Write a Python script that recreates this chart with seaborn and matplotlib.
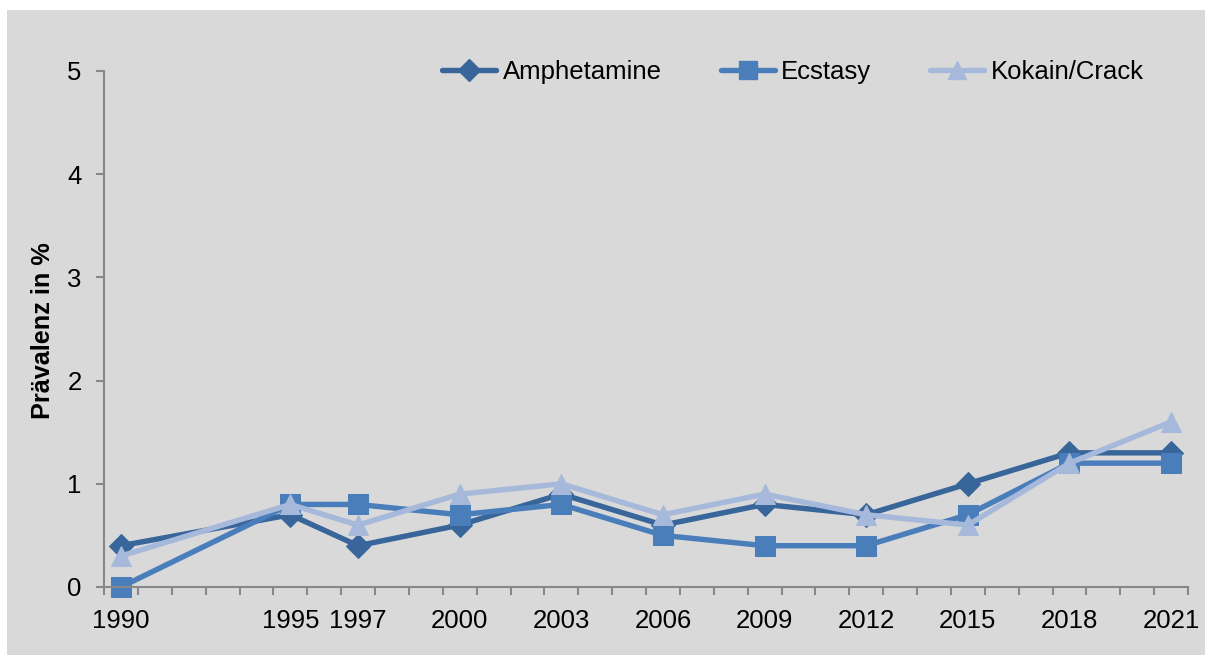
import matplotlib
matplotlib.use("Agg")
import matplotlib.pyplot as plt
from matplotlib.lines import Line2D
from matplotlib.patches import Rectangle
import numpy as np
import pandas as pd
import seaborn as sns

# Survey years and prevalence values (%)
years = [1990, 1995, 1997, 2000, 2003, 2006, 2009, 2012, 2015, 2018, 2021]
amphetamine = [0.4, 0.7, 0.4, 0.6, 0.9, 0.6, 0.8, 0.7, 1.0, 1.3, 1.3]
ecstasy = [0.0, 0.8, 0.8, 0.7, 0.8, 0.5, 0.4, 0.4, 0.7, 1.2, 1.2]
kokain = [0.3, 0.8, 0.6, 0.9, 1.0, 0.7, 0.9, 0.7, 0.6, 1.2, 1.6]
series_names = ["Amphetamine", "Ecstasy", "Kokain/Crack"]
y_ticks = [0, 1, 2, 3, 4, 5]

df = pd.DataFrame({
    "Jahr": years * 3,
    "Wert": amphetamine + ecstasy + kokain,
    "Substanz": [n for n in series_names for _ in years],
})

colors = {"Amphetamine": "#38659a", "Ecstasy": "#4a7ebb", "Kokain/Crack": "#a6b9db"}
markers = {"Amphetamine": "D", "Ecstasy": "s", "Kokain/Crack": "^"}
msizes = {"Amphetamine": 12, "Ecstasy": 14, "Kokain/Crack": 14}
FS = 18.5

sns.set_theme(style="white")
plt.rcParams["font.family"] = ["Liberation Sans", "DejaVu Sans"]

fig = plt.figure(figsize=(12.05, 6.55), dpi=100)
fig.patch.set_facecolor("white")
fig.add_artist(Rectangle((7 / 1205, 0), 1 - 7 / 1205, 1 - 10 / 655,
                         transform=fig.transFigure, facecolor="#d9d9d9",
                         edgecolor="none", zorder=-10))

ax = fig.add_axes([104 / 1205, 1 - 587 / 655, (1188 - 104) / 1205, (587 - 71) / 655])
ax.set_facecolor("none")

for name in series_names:
    sub = df[df["Substanz"] == name]
    sns.lineplot(data=sub, x="Jahr", y="Wert", ax=ax, color=colors[name],
                 marker=markers[name], markersize=msizes[name],
                 markeredgecolor=colors[name], linewidth=3.9,
                 clip_on=False, label=name, legend=False)

ax.set_xlim(1989.5, 2021.5)
ax.set_ylim(0, 5)
ax.set_xticks(years)
ax.set_xticklabels([str(y) for y in years])
ax.set_xticks(np.arange(1989.5, 2022, 1.0), minor=True)
ax.set_yticks(y_ticks)
ax.tick_params(axis="x", which="major", bottom=True, length=0, pad=16,
               labelsize=FS, labelcolor="black")
ax.tick_params(axis="x", which="minor", bottom=True, length=6, width=1.5,
               direction="out", color="#888888")
ax.tick_params(axis="y", which="major", left=True, length=6, width=1.5, direction="out",
               color="#888888", pad=10, labelsize=FS, labelcolor="black")

for side in ["top", "right"]:
    ax.spines[side].set_visible(False)
for side in ["left", "bottom"]:
    ax.spines[side].set_color("#888888")
    ax.spines[side].set_linewidth(1.5)

ax.set_xlabel("")
ax.set_ylabel("Prävalenz in %", fontsize=18.2, fontweight="bold", color="black")
ax.yaxis.set_label_coords(-0.045, 0.497)

handles = [Line2D([], [], color=colors[n], marker=markers[n], markersize=msizes[n] - 1,
                  markeredgecolor=colors[n], linewidth=3.9) for n in series_names]
fig.legend(handles, series_names, loc="center", bbox_to_anchor=(793 / 1205, 1 - 72 / 655),
           ncol=3, frameon=False, fontsize=FS, handlelength=2.1, handletextpad=0.25,
           columnspacing=2.3, labelcolor="black")

fig.savefig("out.png", dpi=100)
